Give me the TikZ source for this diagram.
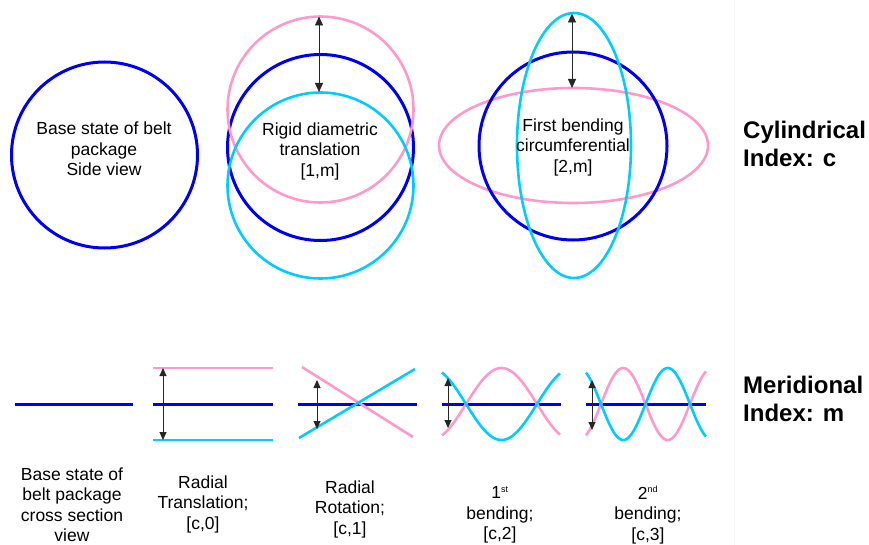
\documentclass[tikz,border=0pt]{standalone}
\usepackage{fontspec}
\setmainfont{Liberation Sans}
\usetikzlibrary{arrows.meta}
\definecolor{beltblue}{RGB}{0,0,240}
\definecolor{beltpink}{RGB}{255,153,204}
\definecolor{beltcyan}{RGB}{0,204,255}

\begin{document}
\begin{tikzpicture}[
  x=1pt, y=-1pt,
  baseline/.style={draw=beltblue, line width=3pt},
  upperline/.style={draw=beltpink, line width=2.6pt},
  lowerline/.style={draw=beltcyan, line width=2.6pt},
  dimarrow/.style={{Triangle[length=9pt, width=8pt]}-{Triangle[length=9pt, width=8pt]}, line width=0.9pt, draw=black!85},
  dimsmall/.style={{Triangle[length=8pt, width=7pt]}-{Triangle[length=8pt, width=7pt]}, line width=0.9pt, draw=black!85},
  lbl/.style={align=center, font=\fontsize{17.5}{20.5}\selectfont, inner sep=0pt},
  idx/.style={anchor=west, align=left, font=\fontsize{24}{28}\selectfont\bfseries, inner sep=0pt}
]
  \useasboundingbox (0,0) rectangle (869,545);
  \draw[black!4, line width=0.8pt] (734,0) -- (734,545);

  % Cylindrical modes (side view)
  \draw[baseline] (104.5,155) circle (93pt);
  \node[lbl] (cbase) at (104,149) {Base state of belt\\package\\Side view};

  \draw[baseline] (320.5,147.5) circle (93pt);
  \draw[upperline] (320.5,109.5) circle (93pt);
  \draw[lowerline] (320.5,185.5) circle (93pt);
  \node[lbl] (crigid) at (320,151) {Rigid diametric\\translation\\{[1,m]}};
  \coordinate (rigidtop) at (319,16.5);
  \coordinate (rigidbot) at (319,92);
  \draw[dimarrow] (rigidtop) -- (rigidbot);

  \draw[upperline] (573.5,145.5) ellipse (134.5pt and 57.5pt);
  \draw[baseline] (573,146) circle (94pt);
  \draw[lowerline] (574,145.5) ellipse (57pt and 132.5pt);
  \node[lbl] (cbend) at (573,147) {First bending\\circumferential\\{[2,m]}};
  \coordinate (bendtop) at (572,13.5);
  \coordinate (bendbot) at (572,88);
  \draw[dimarrow] (bendtop) -- (bendbot);

  \node[idx] (cyl) at (743,144) {Cylindrical\\Index: c};

  % Meridional modes (cross section)
  \draw[baseline] (15,404) -- (133,404);
  \node[lbl] (mbase) at (72,504.5) {Base state of\\belt package\\cross section\\view};

  \draw[upperline] (153,368) -- (273,368);
  \draw[baseline] (153,404) -- (273,404);
  \draw[lowerline] (153,440) -- (273,440);
  \coordinate (transtop) at (163,368);
  \coordinate (transbot) at (163,440);
  \draw[dimsmall] (transtop) -- (transbot);
  \node[lbl] (mtrans) at (203,504) {Radial\\Translation;\\{[c,0]}};

  \draw[baseline] (298,404) -- (417,404);
  \draw[upperline] (302,367) -- (413,437);
  \draw[lowerline] (299,438) -- (415,369);
  \coordinate (rottop) at (317,380);
  \coordinate (rotbot) at (317,429);
  \draw[dimsmall] (rottop) -- (rotbot);
  \node[lbl] (mrot) at (350,509) {Radial\\Rotation;\\{[c,1]}};

  \draw[baseline] (442,404) -- (561,404);
  \draw[upperline] plot[domain=442:560, samples=80, smooth] (\x, {404-36*sin((\x-466)/71*180)});
  \draw[lowerline] plot[domain=442:560, samples=80, smooth] (\x, {404+36*sin((\x-466)/71*180)});
  \coordinate (benda) at (448,378);
  \coordinate (bendb) at (448,428);
  \draw[dimsmall] (benda) -- (bendb);
  \node[lbl] (mfirst) at (500,515) {1\textsuperscript{\fontsize{9}{9}\selectfont st}\\bending;\\{[c,2]}};

  \draw[baseline] (586,404) -- (706,404);
  \draw[upperline] plot[domain=586:706, samples=100, smooth] (\x, {404-36*sin((\x-601)/44.5*180)});
  \draw[lowerline] plot[domain=586:706, samples=100, smooth] (\x, {404+36*sin((\x-601)/44.5*180)});
  \coordinate (bendc) at (592,380);
  \coordinate (bendd) at (592,430);
  \draw[dimsmall] (bendc) -- (bendd);
  \node[lbl] (msecond) at (648,515) {2\textsuperscript{\fontsize{9}{9}\selectfont nd}\\bending;\\{[c,3]}};

  \node[idx] (mer) at (743,399) {Meridional\\Index: m};

\end{tikzpicture}
\end{document}
